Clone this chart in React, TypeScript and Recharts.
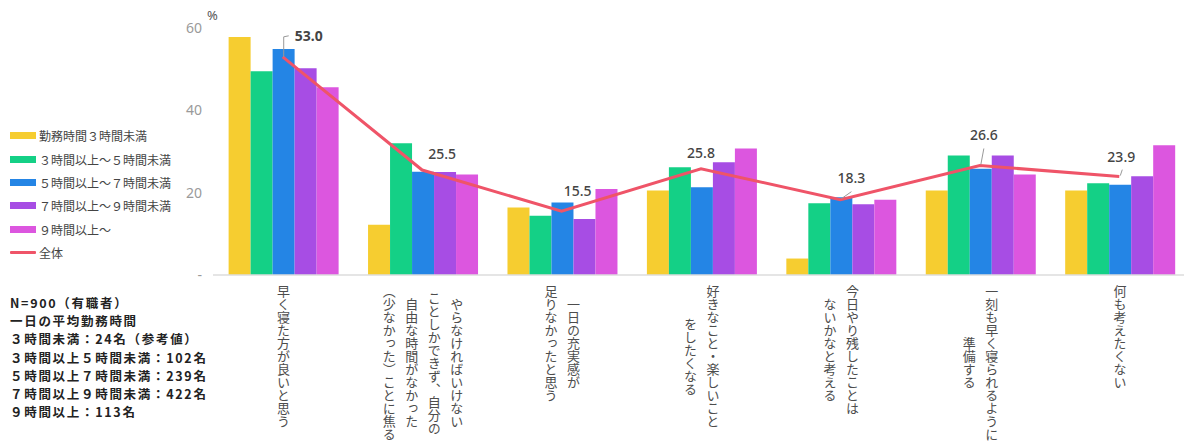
import React from "react";
import {
  ComposedChart,
  Bar,
  Line,
  XAxis,
  YAxis,
  Legend,
  LabelList,
} from "recharts";

const categories = [
  "早く寝た方が良いと思う",
  "やらなければいけない\nことしかできず、自分の\n自由な時間がなかった\n（少なかった）ことに焦る",
  "一日の充実感が\n足りなかったと思う",
  "好きなこと・楽しいこと\nをしたくなる",
  "今日やり残したことは\nないかなと考える",
  "一刻も早く寝られるように\n準備する",
  "何も考えたくない",
];

const seriesNames = [
  "勤務時間３時間未満",
  "３時間以上～５時間未満",
  "５時間以上～７時間未満",
  "７時間以上～９時間未満",
  "９時間以上～",
];
const totalName = "全体";

const under3 = [57.8, 12.2, 16.4, 20.5, 4.0, 20.5, 20.5];
const h3to5 = [49.5, 32.0, 14.4, 26.2, 17.4, 29.0, 22.3];
const h5to7 = [54.9, 25.1, 17.6, 21.3, 18.9, 25.8, 21.9];
const h7to9 = [50.2, 25.0, 13.6, 27.4, 17.2, 29.0, 24.0];
const over9 = [45.6, 24.4, 20.9, 30.7, 18.3, 24.4, 31.5];
const total = [53.0, 25.5, 15.5, 25.8, 18.3, 26.6, 23.9];

const yTicks = [0, 20, 40, 60];

const noteLines = [
  "N=900（有職者）",
  "一日の平均勤務時間",
  "３時間未満：24名（参考値）",
  "３時間以上５時間未満：102名",
  "５時間以上７時間未満：239名",
  "７時間以上９時間未満：422名",
  "９時間以上：113名",
];

const barColors = ["#F6CD30", "#14D086", "#2485E5", "#A74DE4", "#DC56DF"];
const lineColor = "#EF5468";

// label placement for the 全体 values: [dx, dy, leaderDx, leaderDy, kind]
const labelPlacement: [number, number, number, number, string][] = [
  [26, -21, 0, 0, "bracket"],
  [20, -17, 0, 0, "none"],
  [16, -21, 0, 0, "none"],
  [0, -16, 0, 0, "none"],
  [11, -22, 11, -8, "line"],
  [4, -31, 4, -17, "line"],
  [2, -20, 3, -7, "line"],
];

const seriesArrays = [under3, h3to5, h5to7, h7to9, over9];

const data = categories.map((c, i) => {
  const row: Record<string, string | number> = { name: c };
  seriesNames.forEach((s, k) => {
    row[s] = seriesArrays[k][i];
  });
  row[totalName] = total[i];
  return row;
});

const FONT = '"Noto Sans CJK JP", "Noto Sans", sans-serif';

const XTick = (props: any) => {
  const { x, y, payload } = props;
  const cols: string[] = String(payload.value).split("\n");
  return (
    <foreignObject x={x - 70} y={y} width={140} height={170}>
      <div
        style={{
          display: "flex",
          flexDirection: "row-reverse",
          justifyContent: "center",
          alignItems: "center",
          fontFamily: FONT,
          fontSize: 13,
          color: "#4d4d4d",
        }}
      >
        {cols.map((c, i) => (
          <div
            key={i}
            style={{
              writingMode: "vertical-rl",
              lineHeight: "22.5px",
              whiteSpace: "pre",
            }}
          >
            {c}
          </div>
        ))}
      </div>
    </foreignObject>
  );
};

const renderTotalLabel = (props: any) => {
  const { x, y, value } = props;
  let idx = props.index;
  if (idx === undefined || idx === null) idx = total.indexOf(Number(value));
  const p = labelPlacement[idx] || [0, -16, 0, 0, "none"];
  const [dx, dy, ldx, ldy, kind] = p;
  return (
    <g>
      {kind === "bracket" && (
        <path
          d={`M ${x + 1} ${y} L ${x + 1} ${y - 20} L ${x + 6} ${y - 21}`}
          stroke="#999"
          strokeWidth={1}
          fill="none"
        />
      )}
      {kind === "line" && (
        <line
          x1={x + 1}
          y1={y - 1}
          x2={x + ldx}
          y2={y + ldy}
          stroke="#999"
          strokeWidth={1}
        />
      )}
      <text
        x={x + dx}
        y={y + dy}
        textAnchor="middle"
        dominantBaseline="central"
        fontFamily='"Noto Sans", sans-serif'
        fontSize={14}
        fontWeight={idx === 0 ? 700 : 500}
        fill="#444"
      >
        {Number(value).toFixed(1)}
      </text>
    </g>
  );
};

const LegendContent = (props: any) => {
  const { payload } = props;
  const items = [...(payload || [])].sort((a: any, b: any) => {
    const la = a.value === totalName ? 1 : 0;
    const lb = b.value === totalName ? 1 : 0;
    if (la !== lb) return la - lb;
    return seriesNames.indexOf(a.value) - seriesNames.indexOf(b.value);
  });
  return (
    <div style={{ fontFamily: FONT, fontSize: 12, color: "#444" }}>
      {items.map((entry: any, i: number) => {
        const isLine = entry.value === totalName;
        return (
          <div
            key={i}
            style={{
              display: "flex",
              alignItems: "center",
              height: 23.4,
            }}
          >
            <div
              style={{
                width: 26,
                height: isLine ? 3 : 7,
                background: entry.color,
                marginRight: 3,
                borderRadius: isLine ? 1 : 0,
              }}
            />
            <span style={{ whiteSpace: "nowrap" }}>{entry.value}</span>
          </div>
        );
      })}
    </div>
  );
};

export default function App() {
  return (
    <div
      style={{
        position: "fixed",
        left: 0,
        top: 0,
        width: 1184,
        height: 444,
        overflow: "hidden",
        background: "#fff",
      }}
    >
      <ComposedChart
        width={1189}
        height={444}
        data={data}
        margin={{ top: 28, right: 0, bottom: 0, left: 0 }}
        barCategoryGap="11.2%"
        barGap={0}
      >
        <XAxis
          dataKey="name"
          interval={0}
          height={169}
          tickLine={false}
          tickSize={0}
          tickMargin={10}
          axisLine={{ stroke: "#ddd", strokeWidth: 1.5 }}
          tick={<XTick />}
        />
        <YAxis
          width={213}
          domain={[0, 60]}
          ticks={yTicks}
          axisLine={false}
          tickLine={false}
          tickSize={8}
          tickMargin={3}
          tickFormatter={(v: number) => (v === 0 ? "-" : String(v))}
          tick={{ fill: "#9a9a9a", fontSize: 14, fontFamily: '"Noto Sans", sans-serif' }}
        />
        {seriesNames.map((s, k) => (
          <Bar
            key={s}
            dataKey={s}
            name={s}
            fill={barColors[k]}
            isAnimationActive={false}
          />
        ))}
        <Line
          type="linear"
          dataKey={totalName}
          name={totalName}
          stroke={lineColor}
          strokeWidth={3}
          dot={false}
          activeDot={false}
          legendType="line"
          isAnimationActive={false}
        >
          <LabelList dataKey={totalName} content={renderTotalLabel} />
        </Line>
        <Legend
          layout="vertical"
          align="center"
          verticalAlign="middle"
          content={<LegendContent />}
          wrapperStyle={{ position: "absolute", left: 10, top: 124, width: 200 }}
        />
      </ComposedChart>
      <div
        style={{
          position: "absolute",
          left: 207,
          top: 6,
          fontFamily: '"Noto Sans", sans-serif',
          fontSize: 13,
          color: "#555",
        }}
      >
        %
      </div>
      <div
        style={{
          position: "absolute",
          left: 10,
          top: 294,
          fontFamily: FONT,
          fontSize: 12.5,
          letterSpacing: "1.7px",
          fontWeight: 700,
          color: "#222",
          lineHeight: "18.2px",
          whiteSpace: "pre",
        }}
      >
        {noteLines.map((l, i) => (
          <div key={i} style={{ height: 18.2 }}>{l}</div>
        ))}
      </div>
    </div>
  );
}
